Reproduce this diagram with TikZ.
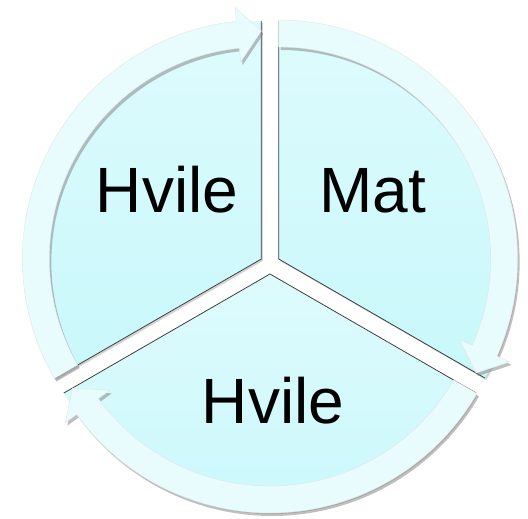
\documentclass[tikz,border=0pt]{standalone}
\usepackage{fontspec}
\setmainfont{Liberation Sans}
\usetikzlibrary{calc, shadows}
\definecolor{segtop}{RGB}{222,251,253}
\definecolor{segbot}{RGB}{200,248,251}
\definecolor{ringcyan}{RGB}{232,252,253}
\tikzstyle{segment}=[top color=segtop, bottom color=segbot, drop shadow={opacity=0.35, shadow xshift=1.5pt, shadow yshift=-2pt}]
\tikzstyle{edge}=[draw=gray!50!black, line width=0.8pt]
\tikzstyle{ring}=[fill=ringcyan, draw=cyan!8!gray!25, line width=0.4pt, drop shadow={opacity=0.5, shadow xshift=2pt, shadow yshift=-3pt}]
\tikzstyle{label}=[font=\fontsize{64}{72}\selectfont, anchor=base, inner sep=0pt]

\begin{document}
\begin{tikzpicture}[x=1pt, y=1pt]
    \useasboundingbox (-270,-255) rectangle (258,264);
    \coordinate (c) at (0,0);
    \coordinate (oL) at (150:10);
    \coordinate (oR) at (30:10);
    \coordinate (oB) at (270:10);
    % segments
    \path[segment] (oL) -- ($(oL)+(90:238)$) arc[start angle=90, end angle=210, radius=238] -- cycle;
    \path[segment] (oR) -- ($(oR)+(-30:238)$) arc[start angle=-30, end angle=90, radius=238] -- cycle;
    \path[segment] (oB) -- ($(oB)+(210:238)$) arc[start angle=210, end angle=330, radius=238] -- cycle;
    \draw[edge] ($(oL)+(90:238)$) -- (oL) -- ($(oL)+(210:238)$);
    \draw[edge] ($(oR)+(90:238)$) -- (oR) -- ($(oR)+(-30:238)$);
    \draw[edge] ($(oB)+(210:238)$) -- (oB) -- ($(oB)+(330:238)$);
    % arrows
    \path[ring] ($(oL)+(210:212)$) arc[start angle=210, end angle=96, radius=212]
        -- ($(oL)+(96:198)$) -- ($(oL)+(90:228)$) -- ($(oL)+(96:253)$)
        -- ($(oL)+(96:239)$) arc[start angle=96, end angle=210, radius=239] -- cycle;
    \path[ring] ($(oR)+(90:212)$) arc[start angle=90, end angle=-24, radius=212]
        -- ($(oR)+(-24:198)$) -- ($(oR)+(-30:228)$) -- ($(oR)+(-24:253)$)
        -- ($(oR)+(-24:239)$) arc[start angle=-24, end angle=90, radius=239] -- cycle;
    \path[ring] ($(oB)+(330:212)$) arc[start angle=330, end angle=216, radius=212]
        -- ($(oB)+(216:198)$) -- ($(oB)+(210:228)$) -- ($(oB)+(216:253)$)
        -- ($(oB)+(216:239)$) arc[start angle=216, end angle=330, radius=239] -- cycle;
    % labels
    \node[label] (hvileL) at (-103,51) {Hvile};
    \node[label] (mat) at (103,51) {Mat};
    \node[label] (hvileB) at (3,-160) {Hvile};
\end{tikzpicture}
\end{document}
